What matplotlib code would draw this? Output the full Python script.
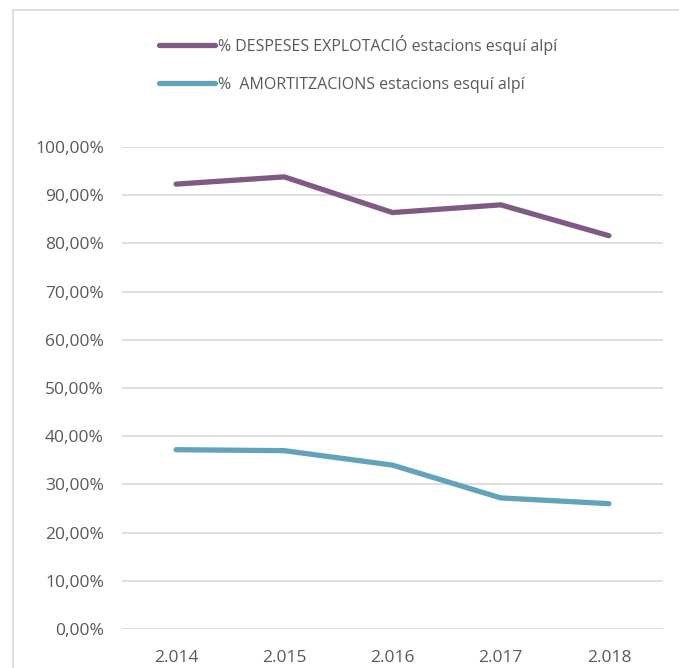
import matplotlib
matplotlib.use("Agg")
import matplotlib.pyplot as plt
from matplotlib.patches import Rectangle

plt.rcParams['font.family'] = ['Open Sans', 'DejaVu Sans']

years = ["2.014", "2.015", "2.016", "2.017", "2.018"]
despeses = [92.3, 93.8, 86.4, 88.0, 81.6]
amortitzacions = [37.2, 37.0, 34.0, 27.2, 26.0]
y_ticks = [0, 10, 20, 30, 40, 50, 60, 70, 80, 90, 100]

label_despeses = "% DESPESES EXPLOTACIÓ estacions esquí alpí"
label_amort = "%  AMORTITZACIONS estacions esquí alpí"

W, H = 679, 668
fig = plt.figure(figsize=(W / 100, H / 100), dpi=100)

# outer chart frame
fig.patches.append(Rectangle((13 / W, -0.1), 1.2, 1 - 10 / H + 0.1,
                             transform=fig.transFigure, fill=False,
                             edgecolor="#D9D9D9", linewidth=1.2))

ax = fig.add_axes([122 / W, 1 - 629 / H, (663 - 122) / W, (629 - 147) / H])
x = list(range(len(years)))
l1, = ax.plot(x, despeses, color="#7F5A83", lw=3.8, solid_capstyle="round",
              solid_joinstyle="round", label=label_despeses)
l2, = ax.plot(x, amortitzacions, color="#62A3BC", lw=3.8, solid_capstyle="round",
              solid_joinstyle="round", label=label_amort)

ax.set_xlim(-0.5, len(years) - 0.5)
ax.set_ylim(0, 100)
ax.set_yticks(y_ticks)
ax.set_yticklabels([f"{v:.2f}".replace(".", ",") + "%" for v in y_ticks])
ax.set_xticks(x)
ax.set_xticklabels(years)
ax.grid(axis="y", color="#D9D9D9", lw=1.2)
ax.set_axisbelow(True)
for s in ax.spines.values():
    s.set_visible(False)
ax.tick_params(axis="both", length=0, labelsize=12.5, labelcolor="#595959")
ax.tick_params(axis="y", pad=13)
ax.tick_params(axis="x", pad=15)

leg = fig.legend(handles=[l1, l2], loc="upper left",
                 bbox_to_anchor=(159 / W, 1 - 35 / H), frameon=False,
                 fontsize=11.5, handlelength=3.5, handletextpad=0.2,
                 labelspacing=1.35, borderpad=0, borderaxespad=0)
for t in leg.get_texts():
    t.set_color("#595959")

fig.savefig("out.png", dpi=100)
